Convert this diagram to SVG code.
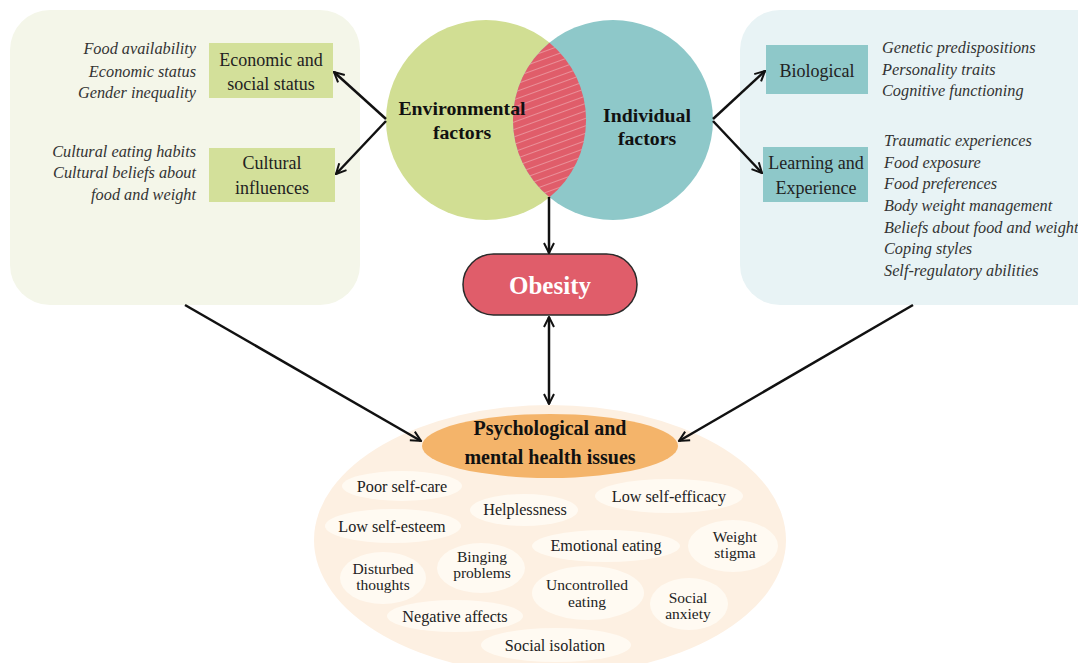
<svg xmlns="http://www.w3.org/2000/svg" width="1078" height="663" viewBox="0 0 1078 663">
<style>
.it{font-family:"Liberation Serif","Times New Roman","DejaVu Serif",serif;font-style:italic;font-size:16.3px;fill:#333}
.bx{font-family:"Liberation Serif","Times New Roman","DejaVu Serif",serif;font-size:18px;fill:#222;text-anchor:middle}
.bd{font-family:"Liberation Serif","Times New Roman","DejaVu Serif",serif;font-weight:bold;fill:#111;text-anchor:middle}
.sm{font-family:"Liberation Serif","Times New Roman","DejaVu Serif",serif;font-size:16.2px;fill:#222;text-anchor:middle}
.sm2{font-family:"Liberation Serif","Times New Roman","DejaVu Serif",serif;font-size:15.5px;fill:#222;text-anchor:middle}
.pill{fill:#fffaf2}
.conn{stroke:#111;stroke-width:2.5;fill:none}
</style>
<defs>
<marker id="ah" viewBox="0 0 10 10" refX="9" refY="5" markerWidth="5" markerHeight="5" orient="auto-start-reverse" markerUnits="strokeWidth">
<path d="M1,1 L9,5 L1,9" fill="none" stroke="#111" stroke-width="1.6"/>
</marker>
<pattern id="hatch" width="10" height="7" patternUnits="userSpaceOnUse" patternTransform="rotate(-20)">
<line x1="0" y1="3.5" x2="10" y2="3.5" stroke="#ffffff" stroke-opacity="0.45" stroke-width="0.7"/>
</pattern>
</defs>

<g id="left-panel">
<rect x="10" y="10" width="350" height="295" rx="40" fill="#f4f6e9"/>
<text class="it" text-anchor="end" x="196" y="54">Food availability</text>
<text class="it" text-anchor="end" x="196" y="77">Economic status</text>
<text class="it" text-anchor="end" x="196" y="98">Gender inequality</text>
<text class="it" text-anchor="end" x="196" y="157">Cultural eating habits</text>
<text class="it" text-anchor="end" x="196" y="178">Cultural beliefs about</text>
<text class="it" text-anchor="end" x="196" y="200">food and weight</text>
</g>
<g id="economic">
<rect x="209" y="43" width="124" height="55" fill="#d3e09a"/>
<text class="bx" x="271" y="66">Economic and</text>
<text class="bx" x="271" y="90">social status</text>
</g>
<g id="cultural">
<rect x="209" y="148" width="126" height="54" fill="#d3e09a"/>
<text class="bx" x="272" y="169">Cultural</text>
<text class="bx" x="272" y="194">influences</text>
</g>

<g id="right-panel">
<rect x="740" y="10" width="380" height="295" rx="40" fill="#e8f3f5"/>
<text class="it" x="882" y="53">Genetic predispositions</text>
<text class="it" x="882" y="75">Personality traits</text>
<text class="it" x="882" y="96">Cognitive functioning</text>
<text class="it" x="884" y="146">Traumatic experiences</text>
<text class="it" x="884" y="168">Food exposure</text>
<text class="it" x="884" y="189">Food preferences</text>
<text class="it" x="884" y="211">Body weight management</text>
<text class="it" x="884" y="233">Beliefs about food and weight</text>
<text class="it" x="884" y="254">Coping styles</text>
<text class="it" x="884" y="276">Self-regulatory abilities</text>
</g>
<g id="biological">
<rect x="766" y="45" width="102" height="49" fill="#8ec8c9"/>
<text class="bx" x="817" y="77">Biological</text>
</g>
<g id="learning">
<rect x="763" y="147" width="105" height="55" fill="#8ec8c9"/>
<text class="bx" x="816" y="169">Learning and</text>
<text class="bx" x="816" y="194">Experience</text>
</g>

<g id="environmental">
<circle cx="486" cy="120" r="100" fill="#d1de93"/>
</g>
<g id="individual">
<circle cx="613" cy="120" r="100" fill="#8ec8c9"/>
</g>
<g id="overlap">
<path d="M549.5,42.7 A100,100 0 0,1 549.5,197.3 A100,100 0 0,1 549.5,42.7 Z" fill="#e05d6a"/>
<path d="M549.5,42.7 A100,100 0 0,1 549.5,197.3 A100,100 0 0,1 549.5,42.7 Z" fill="url(#hatch)"/>
</g>
<g id="venn-labels">
<text class="bd" font-size="19.8" x="462" y="115">Environmental</text>
<text class="bd" font-size="19.8" x="462" y="139">factors</text>
<text class="bd" font-size="19.8" x="647" y="122">Individual</text>
<text class="bd" font-size="19.8" x="647" y="145">factors</text>
</g>

<g id="obesity">
<rect x="463" y="254" width="174" height="61" rx="30.5" fill="#e05d6a" stroke="#2a2a2a" stroke-width="1.5"/>
<text class="bd" font-size="25" x="550" y="294" style="fill:#ffffff">Obesity</text>
</g>

<g id="psych-area">
<ellipse cx="550" cy="540" rx="236" ry="135" fill="#fdf0e2"/>
</g>
<g id="psych">
<ellipse cx="550" cy="446" rx="128" ry="32" fill="#f4b46a"/>
<text class="bd" font-size="20" x="550" y="435">Psychological and</text>
<text class="bd" font-size="20" x="550" y="464">mental health issues</text>
</g>

<g id="issues">
<g id="poor-self-care"><ellipse class="pill" cx="402" cy="486" rx="60" ry="15"/><text class="sm" x="402" y="492">Poor self-care</text></g>
<g id="helplessness"><ellipse class="pill" cx="524" cy="510" rx="54" ry="16"/><text class="sm" x="525" y="515">Helplessness</text></g>
<g id="low-self-efficacy"><ellipse class="pill" cx="669" cy="496" rx="74" ry="17"/><text class="sm" x="669" y="502">Low self-efficacy</text></g>
<g id="low-self-esteem"><ellipse class="pill" cx="393" cy="526" rx="68" ry="17"/><text class="sm" x="392" y="532">Low self-esteem</text></g>
<g id="emotional-eating"><ellipse class="pill" cx="606" cy="546" rx="74" ry="16"/><text class="sm" x="606" y="551">Emotional eating</text></g>
<g id="weight-stigma"><ellipse class="pill" cx="733" cy="546" rx="45" ry="26"/><text class="sm2" x="735" y="542">Weight</text><text class="sm2" x="735" y="558">stigma</text></g>
<g id="binging"><ellipse class="pill" cx="481" cy="568" rx="44" ry="25"/><text class="sm2" x="482" y="562">Binging</text><text class="sm2" x="482" y="578">problems</text></g>
<g id="disturbed"><ellipse class="pill" cx="383" cy="578" rx="43" ry="26"/><text class="sm2" x="383" y="574">Disturbed</text><text class="sm2" x="383" y="590">thoughts</text></g>
<g id="uncontrolled"><ellipse class="pill" cx="588" cy="593" rx="56" ry="27"/><text class="sm2" x="587" y="590">Uncontrolled</text><text class="sm2" x="587" y="607">eating</text></g>
<g id="social-anxiety"><ellipse class="pill" cx="689" cy="604" rx="39" ry="26"/><text class="sm2" x="688" y="603">Social</text><text class="sm2" x="688" y="619">anxiety</text></g>
<g id="negative-affects"><ellipse class="pill" cx="455" cy="616" rx="68" ry="16"/><text class="sm" x="455" y="622">Negative affects</text></g>
<g id="social-isolation"><ellipse class="pill" cx="556" cy="645" rx="75" ry="17"/><text class="sm" x="555" y="651">Social isolation</text></g>
</g>

<g id="connectors">
<line class="conn" x1="386" y1="119" x2="334" y2="72" marker-end="url(#ah)"/>
<line class="conn" x1="386" y1="121" x2="336" y2="174" marker-end="url(#ah)"/>
<line class="conn" x1="713" y1="119" x2="765" y2="71" marker-end="url(#ah)"/>
<line class="conn" x1="713" y1="121" x2="762" y2="173" marker-end="url(#ah)"/>
<line class="conn" x1="549" y1="197" x2="549" y2="253" marker-end="url(#ah)"/>
<line class="conn" x1="549" y1="317" x2="549" y2="404" marker-start="url(#ah)" marker-end="url(#ah)"/>
<line class="conn" x1="185" y1="305" x2="421" y2="441" marker-end="url(#ah)"/>
<line class="conn" x1="913" y1="305" x2="679" y2="441" marker-end="url(#ah)"/>
</g>
</svg>
